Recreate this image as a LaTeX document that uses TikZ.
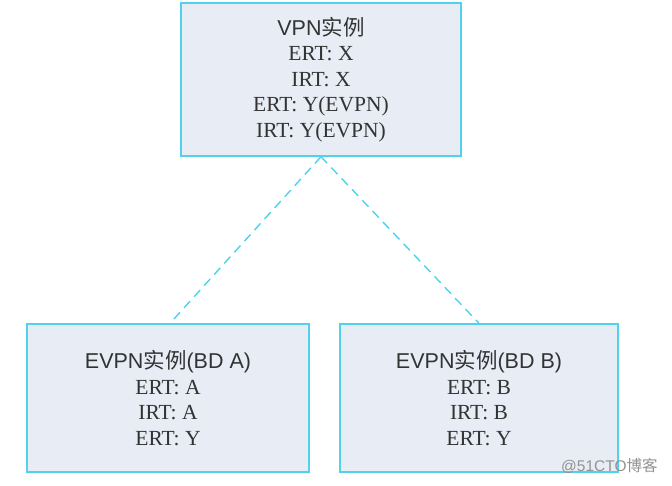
\documentclass[tikz,border=0pt]{standalone}
\usepackage{fontspec}
\setmainfont{Liberation Serif}
\newfontfamily\sansf{Liberation Sans}
\newfontfamily\cjkf{Noto Sans CJK SC}
\definecolor{boxfill}{HTML}{E7ECF5}
\definecolor{boxline}{HTML}{4FD3EA}
\definecolor{txt}{HTML}{333333}
\begin{document}
\begin{tikzpicture}[x=1pt,y=-1pt,
  inst/.style={draw=boxline, line width=1.4pt, fill=boxfill, align=center, text=txt,
    font=\fontsize{21.5}{25.5}\selectfont, inner sep=0pt},
  link/.style={draw=boxline, line width=1.4pt, dash pattern=on 9pt off 6pt}]
\useasboundingbox (0,0) rectangle (672,486);
\fill[white] (0,0) rectangle (672,486);
\node[inst, minimum width=280pt, minimum height=153pt] (vpn) at (321,79.5)
  {{\sansf VPN\cjkf 实例}\\ERT: X\\IRT: X\\ERT: Y(EVPN)\\IRT: Y(EVPN)};
\node[inst, minimum width=282pt, minimum height=148pt] (bda) at (168,398)
  {{\sansf EVPN{\cjkf 实例}(BD A)}\\ERT: A\\IRT: A\\ERT: Y};
\node[inst, minimum width=278pt, minimum height=148pt] (bdb) at (479,398)
  {{\sansf EVPN{\cjkf 实例}(BD B)}\\ERT: B\\IRT: B\\ERT: Y};
\draw[link] (vpn.south) -- ([xshift=2pt]bda.north);
\draw[link] (vpn.south) -- (bdb.north);
\node[text=gray!85, font=\sansf\fontsize{15.5}{15.5}\selectfont, anchor=west, inner sep=0pt] (wm) at (561,466) {@51CTO{\cjkf 博客}};
\end{tikzpicture}
\end{document}
